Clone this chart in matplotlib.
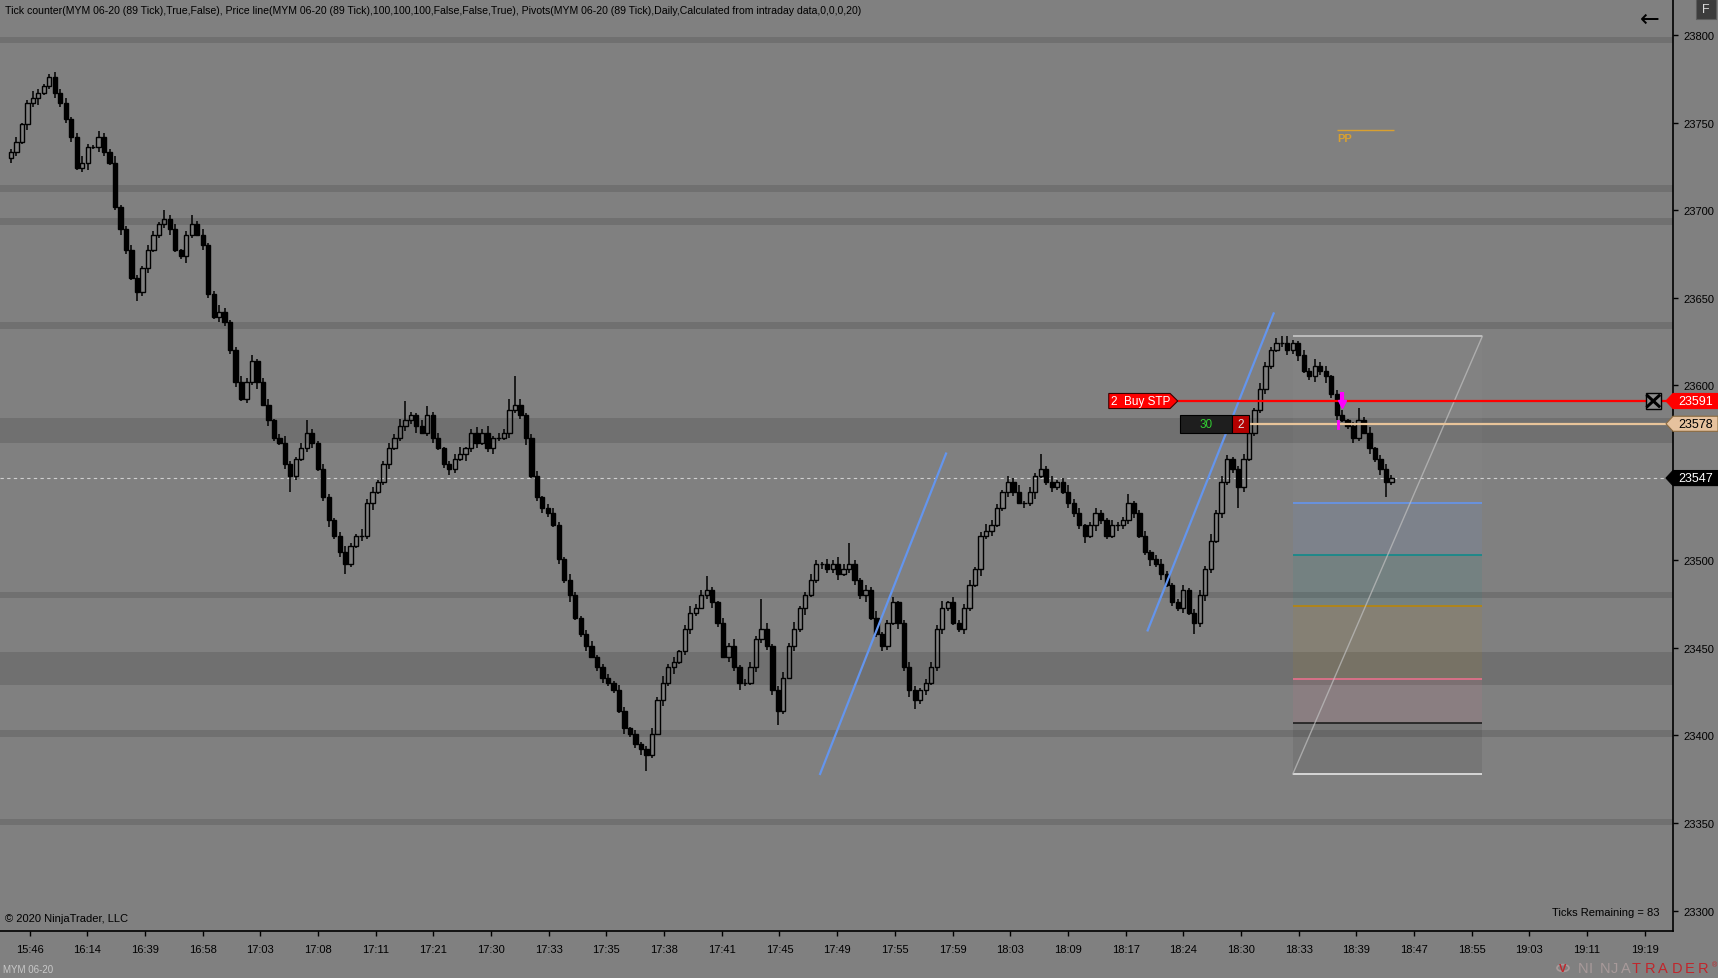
import matplotlib
matplotlib.use("Agg")
import matplotlib.pyplot as plt
import matplotlib.transforms as mtransforms
from matplotlib.patches import Rectangle, Polygon, Circle
import numpy as np

# ---------------- data ----------------
title = ("Tick counter(MYM 06-20 (89 Tick),True,False), Price line(MYM 06-20 (89 Tick),100,100,100,"
         "False,False,True), Pivots(MYM 06-20 (89 Tick),Daily,Calculated from intraday data,0,0,0,20)")

time_labels = ["15:46", "16:14", "16:39", "16:58", "17:03", "17:08", "17:11", "17:21", "17:30",
               "17:33", "17:35", "17:38", "17:41", "17:45", "17:49", "17:55", "17:59", "18:03",
               "18:09", "18:17", "18:24", "18:30", "18:33", "18:39", "18:47", "18:55", "19:03",
               "19:11", "19:19"]

price_ticks = list(range(23300, 23801, 50))
hidden_tick = 23550  # covered by the last-price tag

first_open = 23730
closes = [
    23733, 23739, 23749, 23761, 23764, 23767, 23771, 23776, 23767, 23761,
    23752, 23742, 23724, 23727, 23736, 23736, 23742, 23733, 23727, 23702,
    23689, 23677, 23661, 23653, 23667, 23677, 23686, 23692, 23695, 23689,
    23677, 23674, 23686, 23692, 23686, 23680, 23652, 23639, 23642, 23636,
    23620, 23602, 23592, 23602, 23614, 23602, 23589, 23580, 23570, 23567,
    23555, 23548, 23558, 23564, 23573, 23567, 23552, 23536, 23523, 23514,
    23505, 23498, 23508, 23514, 23514, 23533, 23539, 23545, 23555, 23564,
    23570, 23577, 23580, 23583, 23577, 23573, 23583, 23570, 23564, 23555,
    23552, 23558, 23561, 23564, 23573, 23567, 23573, 23564, 23570, 23570,
    23573, 23586, 23589, 23583, 23570, 23548, 23536, 23530, 23527, 23520,
    23501, 23489, 23480, 23467, 23458, 23451, 23445, 23439, 23433, 23430,
    23426, 23414, 23404, 23401, 23395, 23392, 23389, 23401, 23420, 23430,
    23439, 23442, 23448, 23461, 23470, 23473, 23480, 23483, 23476, 23464,
    23445, 23451, 23439, 23430, 23430, 23439, 23455, 23461, 23451, 23426,
    23414, 23433, 23451, 23461, 23473, 23480, 23489, 23498, 23498, 23495,
    23498, 23492, 23495, 23498, 23489, 23480, 23483, 23467, 23458, 23451,
    23464, 23476, 23464, 23439, 23426, 23420, 23426, 23430, 23439, 23461,
    23473, 23476, 23464, 23461, 23473, 23486, 23495, 23514, 23517, 23520,
    23530, 23539, 23545, 23539, 23533, 23533, 23539, 23548, 23552, 23545,
    23542, 23545, 23539, 23533, 23527, 23520, 23514, 23520, 23527, 23523,
    23514, 23520, 23520, 23523, 23533, 23527, 23514, 23505, 23501, 23498,
    23492, 23486, 23476, 23473, 23483, 23470, 23464, 23480, 23495, 23511,
    23527, 23545, 23558, 23552, 23542, 23558, 23573, 23586, 23598, 23611,
    23620, 23624, 23624, 23620, 23624, 23617, 23608, 23605, 23611, 23608,
    23605, 23595, 23583, 23580, 23577, 23570, 23580, 23573, 23564, 23558,
    23552, 23545, 23547,
]
wick_up = [
    2, 3, 1, 2, 4, 2, 1, 2, 3, 2,
    3, 1, 2, 4, 2, 1, 3, 2, 2, 4,
    1, 2, 3, 2, 1, 3, 2, 1, 5, 2,
    3, 1, 2, 5, 2, 3, 1, 2, 4, 2,
    1, 2, 3, 2, 3, 1, 2, 3, 1, 2,
    4, 2, 1, 3, 7, 2, 1, 3, 2, 1,
    2, 3, 2, 1, 4, 2, 3, 1, 2, 3,
    2, 4, 11, 2, 1, 3, 5, 2, 3, 1,
    2, 3, 4, 1, 2, 3, 2, 4, 1, 3,
    2, 6, 16, 3, 1, 2, 3, 1, 2, 3,
    2, 1, 3, 2, 1, 2, 3, 1, 2, 2,
    1, 3, 2, 1, 2, 1, 2, 3, 2, 4,
    2, 3, 1, 2, 4, 2, 3, 8, 2, 1,
    3, 2, 4, 1, 2, 3, 2, 17, 3, 1,
    2, 3, 2, 4, 1, 2, 3, 2, 1, 3,
    2, 4, 3, 12, 2, 1, 3, 2, 4, 1,
    2, 3, 1, 2, 3, 2, 1, 2, 3, 2,
    4, 1, 3, 2, 2, 3, 1, 2, 4, 3,
    2, 1, 3, 2, 4, 1, 3, 2, 9, 2,
    3, 1, 2, 4, 2, 3, 1, 2, 3, 2,
    1, 3, 2, 2, 5, 1, 2, 3, 1, 2,
    3, 2, 1, 2, 3, 1, 2, 3, 2, 4,
    2, 3, 2, 1, 2, 3, 2, 1, 3, 2,
    2, 3, 4, 4, 2, 1, 3, 2, 4, 2,
    3, 1, 2, 3, 1, 2, 7, 2, 3, 1,
    2, 3, 2,
]
wick_dn = [
    3, 2, 1, 3, 2, 4, 1, 2, 3, 2,
    2, 3, 1, 2, 4, 1, 3, 2, 1, 2,
    3, 2, 1, 5, 2, 3, 1, 2, 2, 3,
    1, 2, 4, 2, 1, 3, 2, 1, 3, 2,
    2, 3, 1, 2, 2, 4, 1, 3, 2, 1,
    3, 9, 2, 1, 2, 3, 1, 2, 4, 2,
    3, 6, 2, 1, 3, 2, 4, 1, 2, 3,
    1, 2, 3, 2, 4, 1, 2, 3, 1, 2,
    3, 2, 1, 4, 2, 3, 1, 2, 3, 2,
    1, 3, 2, 2, 4, 1, 2, 3, 2, 1,
    3, 2, 4, 1, 2, 3, 1, 2, 3, 2,
    2, 1, 3, 2, 2, 3, 9, 2, 1, 3,
    2, 4, 1, 2, 3, 2, 1, 2, 3, 2,
    1, 3, 2, 4, 2, 1, 3, 2, 2, 3,
    8, 2, 1, 3, 2, 4, 1, 2, 3, 2,
    2, 3, 1, 2, 3, 2, 4, 1, 2, 3,
    2, 1, 3, 2, 4, 5, 2, 3, 1, 2,
    3, 2, 1, 2, 3, 2, 1, 4, 2, 3,
    1, 2, 3, 2, 1, 3, 2, 4, 1, 2,
    3, 2, 1, 3, 2, 2, 4, 1, 3, 2,
    2, 1, 3, 2, 2, 3, 1, 2, 4, 2,
    3, 1, 2, 2, 3, 1, 6, 2, 3, 2,
    1, 3, 2, 2, 12, 3, 1, 2, 2, 3,
    2, 1, 2, 3, 2, 3, 1, 2, 3, 2,
    4, 2, 3, 1, 2, 3, 2, 1, 3, 2,
    3, 9, 2,
]

# pivot / zone bands (price low, price high)
zone_bands = [(23795.4, 23798.9), (23710.3, 23714.3), (23691.5, 23695.5), (23632.1, 23636.1),
              (23567.0, 23581.3), (23478.5, 23481.9), (23428.8, 23447.7), (23399.1, 23403.1),
              (23348.9, 23352.3)]

last_price = 23547
buy_stop_price = 23591
entry_price = 23578
pp_level = 23745.5

# fibonacci retracement drawing
fib_bars = (234.0, 268.6)
fib_prices = [23628, 23533, 23503, 23474, 23432, 23407, 23378]
fib_colors = ["#c8c8c8", "#6495ed", "#108a8a", "#b8860b", "#e8708c", "#1e1e1e", "#e6e6e6"]
fib_fill_alpha = [0.04, 0.1, 0.1, 0.1, 0.1, 0.1]

# hand-drawn trend lines: (bar, price) -> (bar, price)
trend_lines = [((147.7, 23378), (170.7, 23561)), ((207.5, 23460), (230.5, 23641))]

# ---------------- style ----------------
BG = "#808080"
BAND = "#707070"
W, H = 1718, 979
plt.rcParams["font.family"] = ["Liberation Sans", "DejaVu Sans"]

fig = plt.figure(figsize=(W / 100, H / 100), dpi=100, facecolor=BG)
ax = fig.add_axes([0, 47 / H, 1673 / W, 932 / H])
ax.set_facecolor(BG)
ax.set_xlim(-2.0, 303.4)
ax.set_ylim(23288.35, 23820.56)

for lo, hi in zone_bands:
    ax.axhspan(lo, hi, color=BAND, lw=0, zorder=0)

# candles
closes_a = np.array(closes, dtype=float)
opens_a = np.concatenate([[first_open], closes_a[:-1]])
x = np.arange(len(closes_a))
top = np.maximum(opens_a, closes_a)
bot = np.minimum(opens_a, closes_a)
ax.vlines(x, top, top + np.array(wick_up), color="black", lw=1.1, zorder=3)
ax.vlines(x, bot - np.array(wick_dn), bot, color="black", lw=1.1, zorder=3)
up = closes_a >= opens_a
ax.bar(x[up], (top - bot)[up], bottom=bot[up], width=0.78, facecolor="none",
       edgecolor="black", lw=1.0, zorder=3)
ax.bar(x[~up], (top - bot)[~up], bottom=bot[~up], width=0.78, facecolor="black",
       edgecolor="black", lw=1.0, zorder=3)

# price line
ax.axhline(last_price, color="#cfcfcf", lw=0.8, ls=(0, (3, 3)), zorder=2)

# fibonacci retracement
fx0, fx1 = fib_bars
for k in range(len(fib_prices) - 1):
    ax.fill_between([fx0, fx1], fib_prices[k + 1], fib_prices[k], color=fib_colors[k],
                    alpha=fib_fill_alpha[k], lw=0, zorder=1)
for p, c in zip(fib_prices, fib_colors):
    ax.hlines(p, fx0, fx1, color=c, lw=1.2, zorder=2)
ax.plot([fx0, fx1], [fib_prices[-1], fib_prices[0]], color="#c0c0c0", lw=1, alpha=0.7, zorder=2)

for (xa, ya), (xb, yb) in trend_lines:
    ax.plot([xa, xb], [ya, yb], color="#6495ed", lw=1.6, zorder=4)

# PP pivot
ax.hlines(pp_level, 242, 252.4, color="#d9a030", lw=1, zorder=2)
ax.text(242.2, pp_level - 1.2, "PP", color="#d9a030", fontsize=8, fontweight="bold",
        va="top", ha="left", zorder=2)

# order lines
ax.hlines(buy_stop_price, 213.0, 303.4, color="#ff0000", lw=1.6, zorder=5)
ax.hlines(entry_price, 226.0, 303.4, color="#e8c49a", lw=1.6, zorder=5)

h = 4.3
ax.add_patch(Polygon([(200.4, buy_stop_price + h), (211.6, buy_stop_price + h),
                      (213.0, buy_stop_price), (211.6, buy_stop_price - h),
                      (200.4, buy_stop_price - h)], closed=True, fc="#ff0000",
                     ec="#3a0000", lw=0.8, zorder=6))
ax.text(206.2, buy_stop_price, "2  Buy STP", color="white", fontsize=8.5, ha="center",
        va="center", zorder=7)

hb = 5.1
ax.add_patch(Rectangle((213.4, entry_price - hb), 9.5, 2 * hb, fc="#1e1e1e", ec="black",
                       lw=0.8, zorder=6))
ax.text(218.15, entry_price, "30", color="#32cd32", fontsize=8.5, ha="center", va="center", zorder=7)
ax.add_patch(Rectangle((222.9, entry_price - hb), 3.1, 2 * hb, fc="#b40000", ec="black",
                       lw=0.8, zorder=6))
ax.text(224.45, entry_price, "2", color="#e0e0e0", fontsize=8.5, ha="center", va="center", zorder=7)

# close-order box
ax.add_patch(Rectangle((298.4, buy_stop_price - h), 2.8, 2 * h, fc="#8c8c8c", ec="black",
                       lw=1, zorder=6))
ax.plot([298.75, 300.85], [buy_stop_price + 3, buy_stop_price - 3], color="black", lw=2.2, zorder=7)
ax.plot([298.75, 300.85], [buy_stop_price - 3, buy_stop_price + 3], color="black", lw=2.2, zorder=7)

# fills (magenta)
ax.plot([242.9, 242.9], [23596, 23591], color="#ff00ff", lw=3, solid_capstyle="butt", zorder=6)
ax.plot([242.9], [23589.5], marker="v", color="#ff00ff", ms=6, zorder=6)
ax.plot([242.2, 242.2], [23579.5, 23575.5], color="#ff00ff", lw=2, zorder=6)

# axes and ticks
for s in ("top", "left"):
    ax.spines[s].set_visible(False)
for s in ("right", "bottom"):
    ax.spines[s].set_color("black")
    ax.spines[s].set_linewidth(1.2)
ax.yaxis.tick_right()
ax.set_yticks(price_ticks)
ax.set_yticklabels(["" if p == hidden_tick else str(p) for p in price_ticks])
ax.set_xticks(3.4 + 10.53 * np.arange(len(time_labels)))
ax.set_xticklabels(time_labels)
ax.tick_params(axis="y", direction="out", length=3.5, width=1, pad=4, labelsize=8,
               colors="black")
ax.tick_params(axis="x", direction="out", length=3.5, width=1, pad=6, labelsize=8,
               colors="black")

# price tags on the axis
tag_tf = mtransforms.blended_transform_factory(fig.transFigure, ax.transData)


def price_tag(price, face, edge, text_color):
    th = 4.3
    xt, xb = 1666 / W, 1673 / W
    ax.add_patch(Polygon([(xt, price), (xb, price + th), (1.0, price + th), (1.0, price - th),
                          (xb, price - th)], closed=True, transform=tag_tf, fc=face,
                         ec=edge, lw=0.8, clip_on=False, zorder=10))
    ax.text(1696 / W, price, str(price), transform=tag_tf, color=text_color, fontsize=9,
            ha="center", va="center", clip_on=False, zorder=11)


price_tag(buy_stop_price, "#ff0000", "#ff0000", "white")
price_tag(entry_price, "#e6c29e", "#8a6a40", "black")
price_tag(last_price, "#000000", "#000000", "white")

# header / footer texts
fig.text(5 / W, 1 - 11 / H, title, fontsize=7.6, color="black", va="center", ha="left")
fig.text(1650 / W, 1 - 20 / H, "\u2190", fontsize=17, color="black", va="center", ha="center",
         family=["DejaVu Sans"])
fig.patches.append(Rectangle((1696 / W, 1 - 20 / H), 20 / W, 20 / H, transform=fig.transFigure,
                             fc="#3c3c3c", ec="#5c5c5c", lw=0.8))
fig.text(1706 / W, 1 - 10 / H, "F", fontsize=9, color="#d8d8d8", va="center", ha="center")
fig.text(5 / W, 1 - 919 / H, "\u00a9 2020 NinjaTrader, LLC", fontsize=8, color="black",
         va="center", ha="left")
fig.text(1660 / W, 1 - 913 / H, "Ticks Remaining = 83", fontsize=8, color="black",
         va="center", ha="right")
fig.text(3 / W, 1 - 970 / H, "MYM 06-20", fontsize=7, color="#c8c8c8", va="center", ha="left")

# NinjaTrader logo (letter-spaced)
fig.patches.append(Circle((1563 / W, 1 - 969 / H), 6 / W, transform=fig.transFigure,
                          fc="none", ec="#a89a9a", lw=1.2))
fig.text(1563 / W, 1 - 969 / H, "V", fontsize=8, color="#c0262c", va="center", ha="center",
         fontweight="bold")
for k, ch in enumerate("NINJA"):
    fig.text((1578 + 10.8 * k) / W, 1 - 969 / H, ch, fontsize=10.5, color="#a89a9a",
             va="center", ha="left")
for k, ch in enumerate("TRADER"):
    fig.text((1632 + 13.2 * k) / W, 1 - 969 / H, ch, fontsize=10.5, color="#c0262c",
             va="center", ha="left")
fig.text(1712 / W, 1 - 966 / H, "\u00ae", fontsize=5, color="#c0262c", va="center", ha="left")

fig.savefig("out.png", dpi=100, facecolor=BG)
